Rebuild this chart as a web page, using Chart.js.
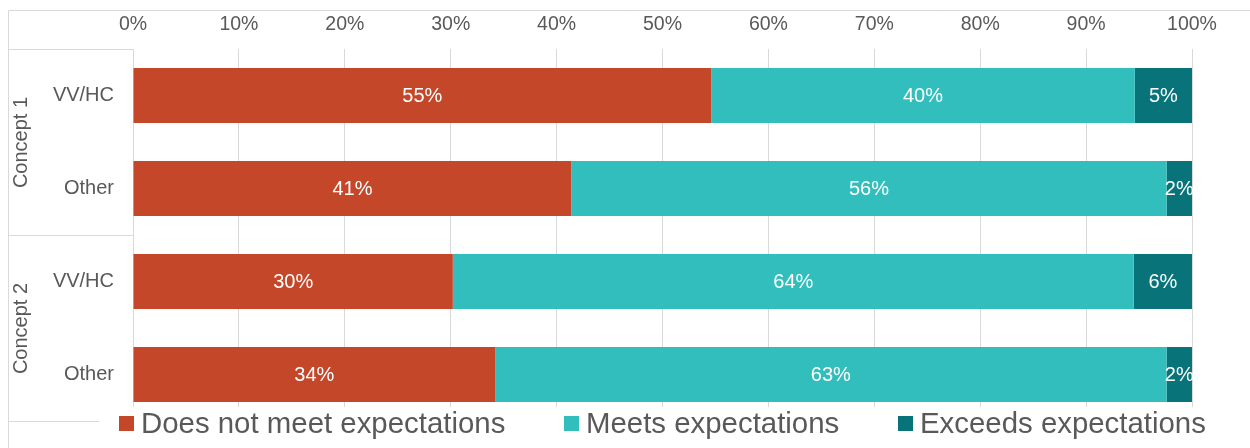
<!DOCTYPE html>
<html>
<head>
<meta charset="utf-8">
<script src="https://cdn.jsdelivr.net/npm/chart.js@4.4.0/dist/chart.umd.min.js"></script>
<style>
  html, body { margin: 0; padding: 0; background: #fff; }
  #wrap { position: relative; width: 1250px; height: 448px; }
</style>
</head>
<body>
<div id="wrap"><canvas id="stacked-bar-chart"></canvas></div>
<script>
// Stacked 100% bar chart
// ------------------------------
const groupLabels = ["Concept 1", "Concept 2"];
const rowLabels = ["VV/HC", "Other", "VV/HC", "Other"];
const seriesNames = ["Does not meet expectations", "Meets expectations", "Exceeds expectations"];
const doesNotMeet = [54.6, 41.4, 30.2, 34.2];
const meets = [40.0, 56.2, 64.3, 63.4];
const exceeds = [5.4, 2.4, 5.5, 2.4];
const seriesColors = ['#C4472A', '#31BEBD', '#08747A'];

const FONT = '"Liberation Sans", Arial, sans-serif';
const TEXT_GREY = '#595959';
const LINE_GREY = '#D9D9D9';

// frame lines and the outer "Concept" labels on the left
const framePlugin = {
    id: 'frame',
    beforeDraw(chart) {
        const ctx = chart.ctx;
        const area = chart.chartArea;
        const y = chart.scales.y;
        const left = 8.5;
        const mid = Math.round((y.getPixelForTick(1) + y.getPixelForTick(2)) / 2) + 0.5;
        const bounds = [Math.round(area.top) + 0.5, mid, Math.round(area.bottom) + 0.5];
        ctx.save();
        ctx.strokeStyle = LINE_GREY;
        ctx.lineWidth = 1;
        ctx.beginPath();
        ctx.moveTo(left, 10.5);
        ctx.lineTo(chart.width, 10.5);
        ctx.moveTo(left, 10.5);
        ctx.lineTo(left, chart.height);
        bounds.forEach(function (b) {
            ctx.moveTo(left, b);
            ctx.lineTo(area.left, b);
        });
        ctx.stroke();

        ctx.fillStyle = TEXT_GREY;
        ctx.font = '20px ' + FONT;
        ctx.textAlign = 'center';
        ctx.textBaseline = 'middle';
        groupLabels.forEach(function (label, i) {
            const cy = (bounds[i] + bounds[i + 1]) / 2;
            ctx.save();
            ctx.translate(21, cy);
            ctx.rotate(-Math.PI / 2);
            ctx.fillText(label, 0, 0);
            ctx.restore();
        });
        ctx.restore();
    }
};

// white percentage labels in the middle of each segment
const segmentLabelPlugin = {
    id: 'segmentLabels',
    afterDatasetsDraw(chart) {
        const ctx = chart.ctx;
        ctx.save();
        ctx.fillStyle = '#FFFFFF';
        ctx.font = '20px ' + FONT;
        ctx.textAlign = 'center';
        ctx.textBaseline = 'middle';
        chart.data.datasets.forEach(function (ds, di) {
            const meta = chart.getDatasetMeta(di);
            meta.data.forEach(function (bar, i) {
                const cx = (bar.x + bar.base) / 2;
                ctx.fillText(Math.round(ds.data[i]) + '%', cx, bar.y + 1);
            });
        });
        ctx.restore();
    }
};

// legend row along the bottom, centred under the plot
const legendPlugin = {
    id: 'bottomLegend',
    afterDraw(chart) {
        const ctx = chart.ctx;
        const area = chart.chartArea;
        const box = 15, textGap = 7, itemGap = 59;
        ctx.save();
        ctx.font = '29.4px ' + FONT;
        const widths = seriesNames.map(function (n) { return box + textGap + ctx.measureText(n).width; });
        const total = widths.reduce(function (a, b) { return a + b; }, 0) + itemGap * (widths.length - 1);
        let x = Math.round((area.left + area.right) / 2 - total / 2);
        ctx.fillStyle = '#FFFFFF';
        ctx.fillRect(x - 20, 407, total + 40, chart.height - 407);
        ctx.textAlign = 'left';
        ctx.textBaseline = 'alphabetic';
        seriesNames.forEach(function (name, i) {
            ctx.fillStyle = seriesColors[i];
            ctx.fillRect(x, 416, box, box);
            ctx.fillStyle = TEXT_GREY;
            ctx.fillText(name, x + box + textGap, 432.5);
            x = Math.round(x + widths[i] + itemGap);
        });
        ctx.restore();
    }
};

const chartData = {
    labels: rowLabels,
    datasets: [
        { label: seriesNames[0], data: doesNotMeet, backgroundColor: seriesColors[0] },
        { label: seriesNames[1], data: meets, backgroundColor: seriesColors[1] },
        { label: seriesNames[2], data: exceeds, backgroundColor: seriesColors[2] }
    ]
};

const chartOptions = {
    indexAxis: 'y',
    responsive: true,
    maintainAspectRatio: false,
    animation: false,
    layout: { padding: { left: 8, top: 10, right: 58, bottom: 27 } },
    datasets: { bar: { barPercentage: 0.59, categoryPercentage: 1, borderWidth: 0 } },
    plugins: { legend: { display: false }, tooltip: { enabled: false } },
    scales: {
        x: {
            position: 'top',
            stacked: true,
            min: 0,
            max: 100,
            ticks: {
                stepSize: 10,
                padding: 13,
                color: TEXT_GREY,
                font: { family: FONT, size: 19.5 },
                callback: function (v) { return v + '%'; }
            },
            grid: { color: LINE_GREY, drawTicks: false },
            border: { display: false },
            afterFit: function (scale) { scale.height = 39; }
        },
        y: {
            stacked: true,
            ticks: {
                padding: 19,
                color: TEXT_GREY,
                font: { family: FONT, size: 20 }
            },
            grid: { display: false, drawTicks: false },
            border: { display: false },
            afterFit: function (scale) {
                scale.width = 125;
                // rows fill the full height, no room needed for label overhang
                scale.paddingTop = 0;
                scale.paddingBottom = 0;
            }
        }
    }
};

new Chart(document.getElementById('stacked-bar-chart'), {
    type: 'bar',
    data: chartData,
    options: chartOptions,
    plugins: [framePlugin, segmentLabelPlugin, legendPlugin]
});
</script>
</body>
</html>
